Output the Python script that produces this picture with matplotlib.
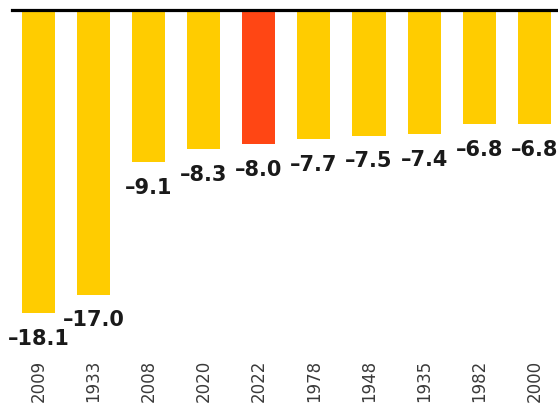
import matplotlib
matplotlib.use('Agg')
import matplotlib.pyplot as plt

years = ['2009', '1933', '2008', '2020', '2022', '1978', '1948', '1935', '1982', '2000']
values = [-18.1, -17.0, -9.1, -8.3, -8.0, -7.7, -7.5, -7.4, -6.8, -6.8]
highlight = '2022'

yellow = '#FFCC00'
red = '#FF4614'

W, H = 558, 409
fig = plt.figure(figsize=(W / 100, H / 100), dpi=100)
# axes placed in pixels: left 12, right edge, zero line at 10 px from top
ax = fig.add_axes([12 / W, (H - 350) / H, (W - 12) / W, 340 / H])

colors = [red if y == highlight else yellow for y in years]
x = list(range(len(years)))
ax.bar(x, values, width=0.6, color=colors, zorder=2)

for xi, v in zip(x, values):
    ax.annotate('{:.1f}'.format(v).replace('-', '\u2013'), xy=(xi, v), xytext=(0, -18.5),
                textcoords='offset points', ha='center', va='center',
                fontsize=15, fontweight='bold', color='#1a1a1a')

ax.set_xlim(-0.48, 9.43)
ax.set_ylim(-20.3, 0)
ax.set_xticks(x)
ax.set_xticklabels(years, rotation=90, fontsize=12, color='#3a3a3a')
ax.tick_params(axis='x', length=0, pad=7)
ax.set_yticks([])

for s in ['left', 'right', 'bottom']:
    ax.spines[s].set_visible(False)
ax.spines['top'].set_linewidth(2.3)
ax.spines['top'].set_color('black')
ax.spines['top'].set_zorder(3)

fig.savefig('out.png', dpi=100)
